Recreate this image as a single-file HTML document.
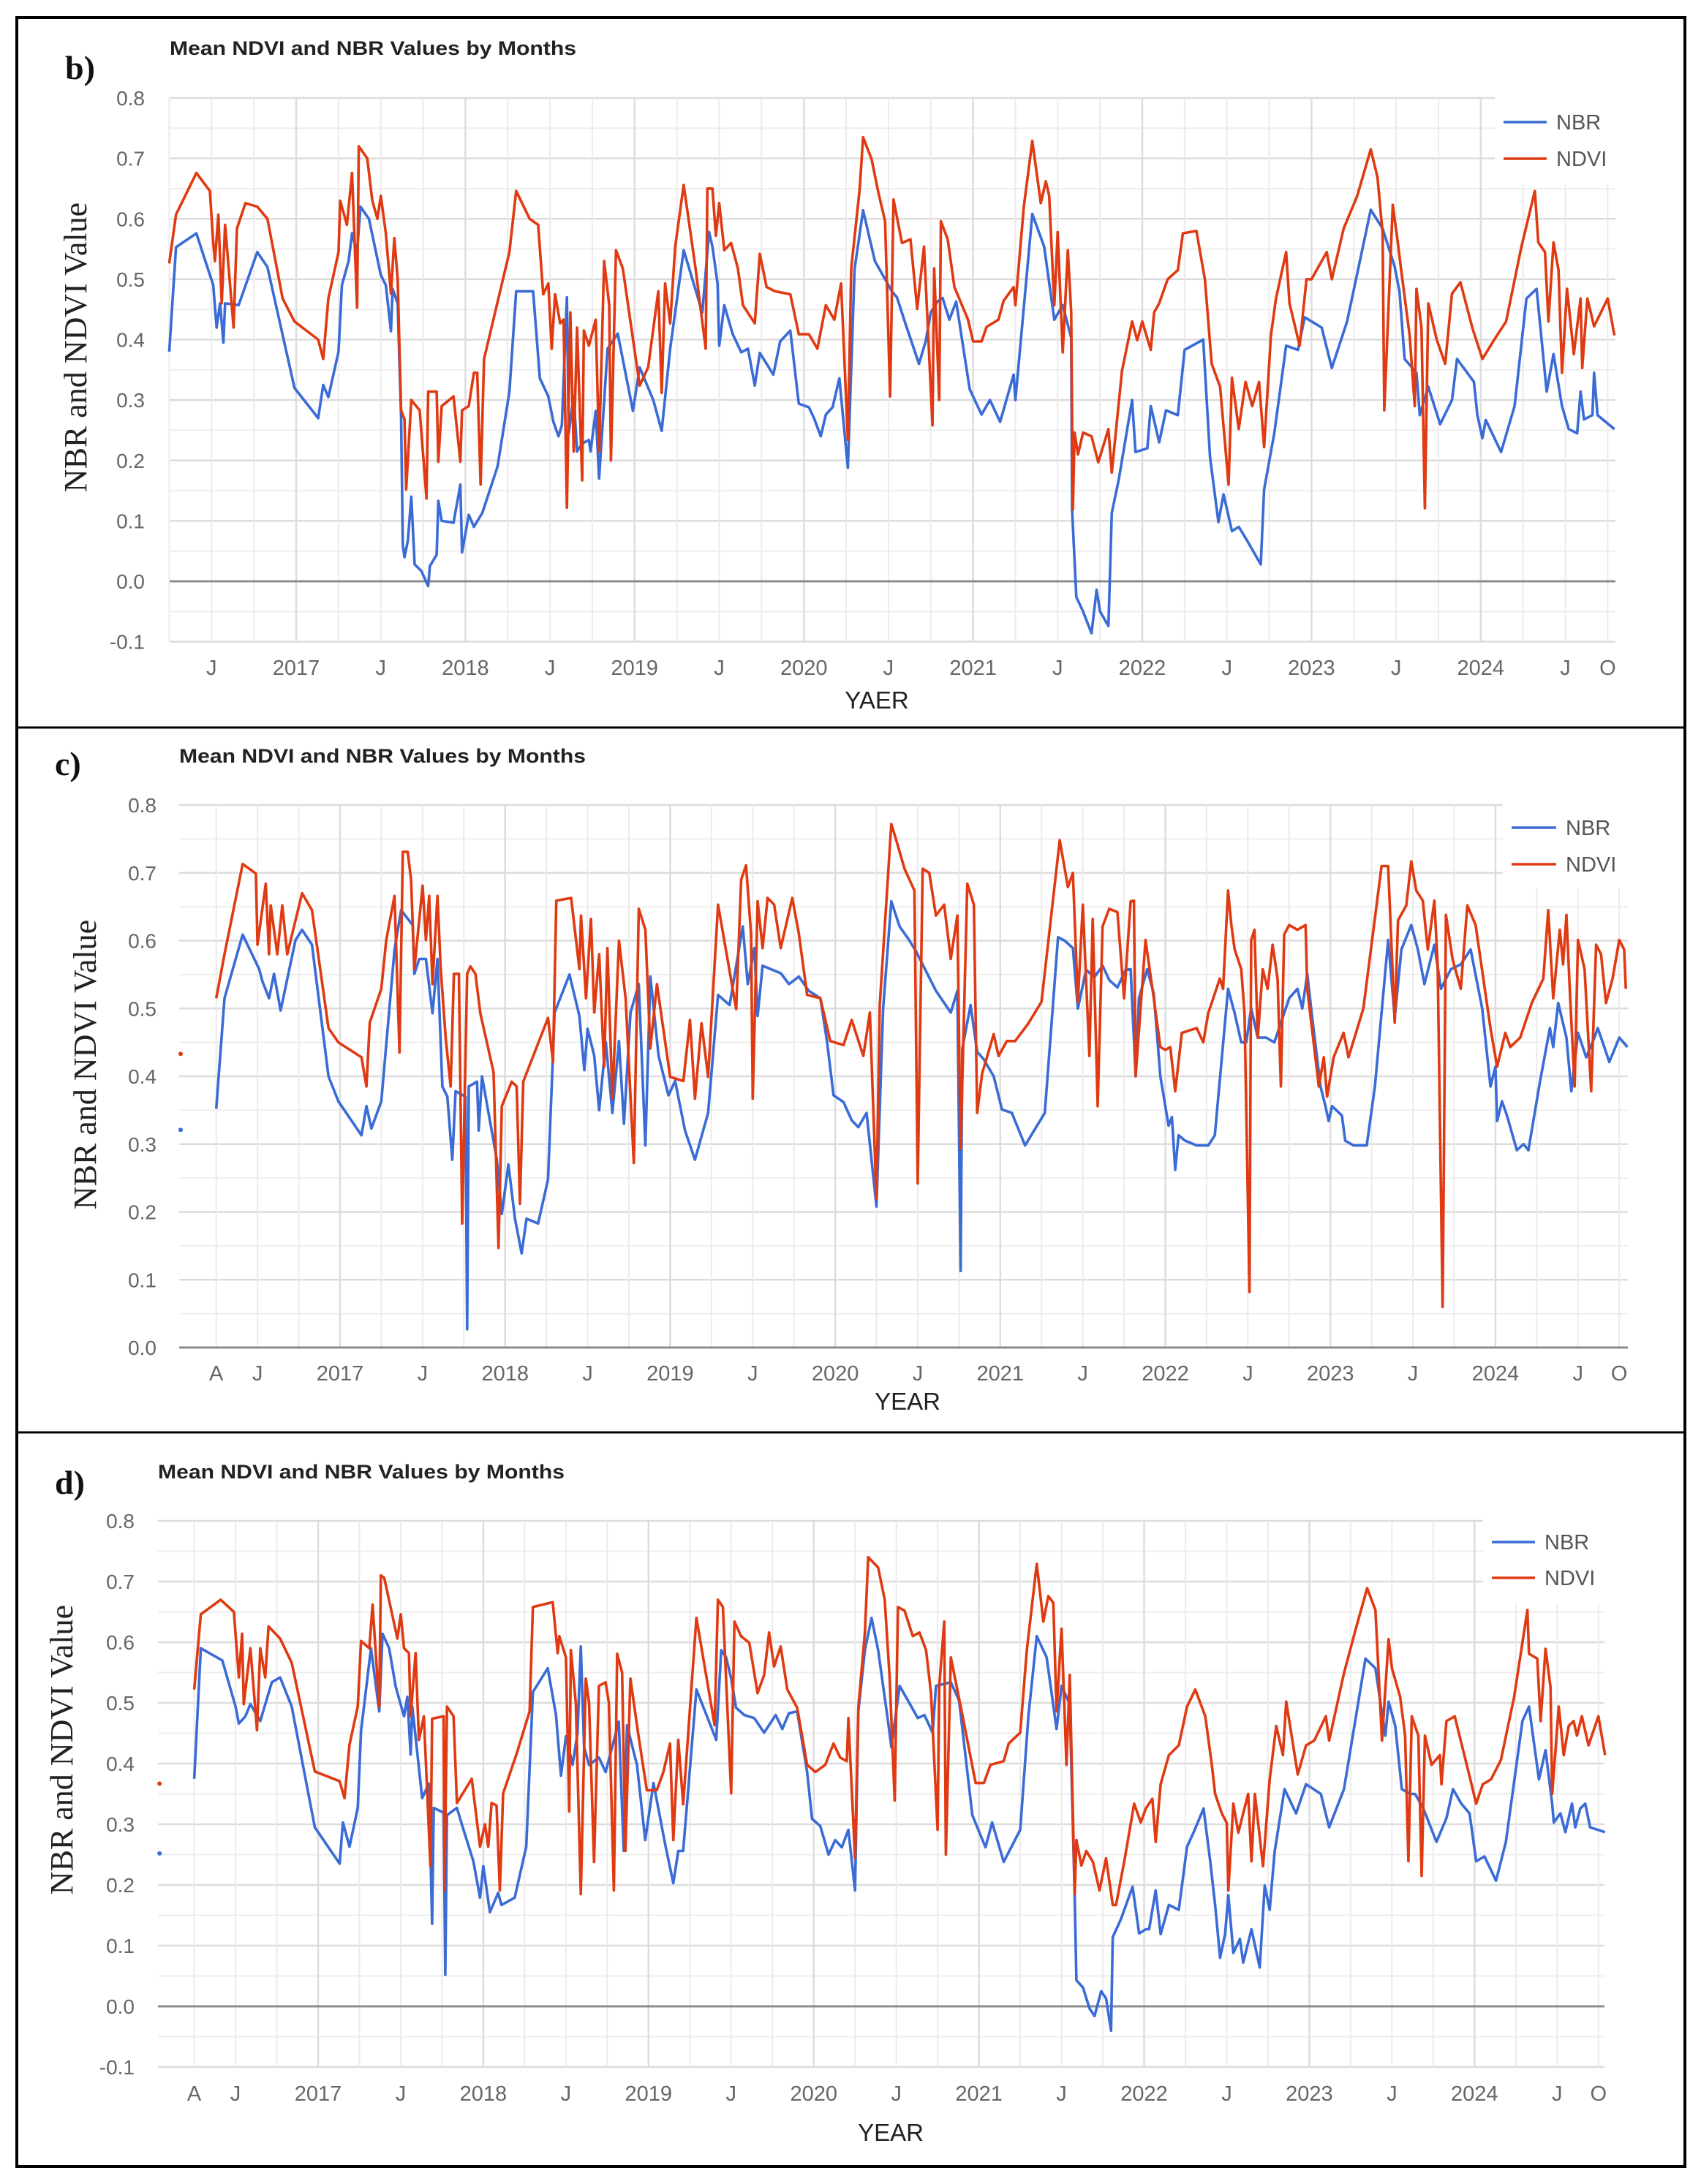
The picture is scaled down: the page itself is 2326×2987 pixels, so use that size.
<!DOCTYPE html>
<html><head><meta charset="utf-8"><title>Mean NDVI and NBR Values by Months</title>
<style>html,body{margin:0;padding:0;background:#fff}svg{display:block}</style></head>
<body>
<svg id="fig" xmlns="http://www.w3.org/2000/svg" width="2326" height="2987" viewBox="0 0 2326 2987">
<rect x="0" y="0" width="2326" height="2987" fill="#fff"/>
<g id="layer"></g>
<rect x="23" y="24" width="2281" height="2939" fill="none" stroke="#000" stroke-width="4"/>
<line x1="23" y1="995" x2="2304" y2="995" stroke="#000" stroke-width="3"/>
<line x1="23" y1="1959" x2="2304" y2="1959" stroke="#000" stroke-width="3"/>
</svg>
<script>
// ---------------- DATA (decimal years, values) ----------------
const bNbrT=[2016.25,2016.29,2016.41,2016.51,2016.53,2016.55,2016.57,2016.58,2016.66,2016.77,2016.83,2016.99,2017.13,2017.16,2017.19,2017.25,2017.27,2017.31,2017.33,2017.36,2017.38,2017.43,2017.5,2017.53,2017.56,2017.57,2017.6,2017.62,2017.63,2017.64,2017.66,2017.68,2017.7,2017.74,2017.78,2017.79,2017.83,2017.84,2017.86,2017.93,2017.97,2017.98,2018.02,2018.05,2018.1,2018.19,2018.26,2018.3,2018.4,2018.44,2018.49,2018.52,2018.55,2018.57,2018.6,2018.61,2018.64,2018.66,2018.69,2018.73,2018.74,2018.77,2018.79,2018.84,2018.9,2018.99,2019.03,2019.11,2019.16,2019.21,2019.29,2019.4,2019.44,2019.46,2019.49,2019.5,2019.53,2019.58,2019.63,2019.67,2019.71,2019.74,2019.78,2019.82,2019.86,2019.92,2019.97,2020.03,2020.06,2020.1,2020.13,2020.17,2020.21,2020.26,2020.3,2020.35,2020.42,2020.47,2020.52,2020.55,2020.6,2020.68,2020.72,2020.75,2020.79,2020.82,2020.86,2020.9,2020.98,2021.05,2021.1,2021.16,2021.24,2021.25,2021.35,2021.42,2021.48,2021.53,2021.58,2021.585,2021.61,2021.65,2021.7,2021.73,2021.75,2021.8,2021.82,2021.86,2021.94,2021.96,2022.03,2022.05,2022.1,2022.14,2022.21,2022.25,2022.36,2022.4,2022.45,2022.48,2022.53,2022.57,2022.62,2022.7,2022.72,2022.78,2022.85,2022.92,2022.96,2023.06,2023.12,2023.21,2023.35,2023.42,2023.49,2023.52,2023.55,2023.62,2023.64,2023.69,2023.76,2023.83,2023.86,2023.96,2023.98,2024.01,2024.03,2024.12,2024.2,2024.27,2024.33,2024.39,2024.43,2024.48,2024.52,2024.57,2024.59,2024.61,2024.66,2024.67,2024.69,2024.79];
const bNbrV=[.38,.553,.576,.49,.42,.46,.395,.46,.457,.545,.52,.32,.27,.325,.305,.38,.49,.53,.576,.545,.62,.6,.507,.49,.414,.484,.46,.27,.06,.04,.067,.14,.028,.017,-.008,.025,.044,.133,.1,.097,.16,.048,.11,.09,.113,.19,.314,.48,.48,.336,.306,.264,.24,.258,.47,.245,.306,.215,.228,.234,.215,.282,.17,.385,.41,.282,.354,.3,.249,.385,.548,.445,.578,.554,.493,.39,.457,.409,.379,.385,.324,.378,.36,.342,.397,.415,.294,.288,.27,.24,.276,.288,.336,.188,.517,.614,.53,.505,.48,.47,.427,.36,.397,.445,.463,.469,.433,.463,.318,.276,.3,.264,.342,.3,.608,.554,.433,.457,.403,.119,-.026,-.05,-.086,-.014,-.05,-.074,.113,.167,.3,.214,.22,.29,.23,.283,.275,.383,.4,.206,.098,.144,.083,.09,.067,.028,.152,.245,.39,.383,.437,.42,.353,.43,.615,.584,.522,.48,.368,.345,.275,.322,.26,.3,.368,.33,.275,.237,.267,.214,.29,.468,.484,.314,.376,.29,.252,.245,.314,.268,.275,.345,.275,.252];
const bNdviT=[2016.25,2016.29,2016.41,2016.49,2016.51,2016.52,2016.54,2016.56,2016.58,2016.63,2016.65,2016.7,2016.77,2016.83,2016.92,2016.99,2017.13,2017.16,2017.19,2017.25,2017.26,2017.3,2017.33,2017.36,2017.37,2017.42,2017.45,2017.48,2017.5,2017.53,2017.56,2017.58,2017.6,2017.62,2017.64,2017.65,2017.68,2017.73,2017.77,2017.78,2017.83,2017.84,2017.86,2017.93,2017.97,2017.98,2018.02,2018.05,2018.07,2018.09,2018.11,2018.26,2018.3,2018.38,2018.42,2018.43,2018.46,2018.49,2018.51,2018.53,2018.56,2018.58,2018.6,2018.62,2018.64,2018.66,2018.69,2018.7,2018.73,2018.77,2018.79,2018.82,2018.85,2018.86,2018.89,2018.93,2019.03,2019.08,2019.14,2019.16,2019.18,2019.21,2019.24,2019.29,2019.36,2019.42,2019.43,2019.46,2019.48,2019.5,2019.53,2019.57,2019.61,2019.64,2019.71,2019.74,2019.78,2019.83,2019.92,2019.97,2020.03,2020.08,2020.13,2020.18,2020.22,2020.26,2020.28,2020.33,2020.35,2020.4,2020.44,2020.48,2020.51,2020.53,2020.58,2020.63,2020.67,2020.71,2020.76,2020.77,2020.8,2020.81,2020.85,2020.89,2020.97,2021.0,2021.05,2021.08,2021.15,2021.18,2021.24,2021.25,2021.3,2021.35,2021.4,2021.43,2021.45,2021.48,2021.5,2021.53,2021.56,2021.58,2021.59,2021.6,2021.62,2021.65,2021.7,2021.74,2021.8,2021.82,2021.88,2021.94,2021.97,2022.0,2022.05,2022.07,2022.1,2022.15,2022.21,2022.24,2022.32,2022.37,2022.41,2022.46,2022.51,2022.53,2022.57,2022.61,2022.65,2022.69,2022.72,2022.76,2022.79,2022.85,2022.87,2022.93,2022.97,2023.0,2023.09,2023.12,2023.19,2023.27,2023.35,2023.39,2023.42,2023.43,2023.48,2023.51,2023.53,2023.58,2023.61,2023.62,2023.65,2023.67,2023.69,2023.74,2023.79,2023.83,2023.88,2023.95,2024.01,2024.08,2024.15,2024.24,2024.32,2024.34,2024.38,2024.4,2024.43,2024.46,2024.48,2024.51,2024.55,2024.59,2024.6,2024.63,2024.67,2024.75,2024.79];
const bNdviV=[.526,.607,.676,.646,.56,.53,.607,.46,.59,.42,.584,.626,.62,.6,.468,.43,.4,.368,.468,.545,.63,.59,.676,.453,.72,.7,.63,.6,.638,.576,.476,.568,.5,.283,.268,.152,.3,.283,.137,.314,.314,.198,.29,.306,.198,.283,.29,.345,.345,.16,.368,.545,.646,.6,.592,.59,.475,.493,.385,.475,.427,.433,.122,.445,.215,.42,.167,.415,.39,.433,.215,.53,.457,.2,.548,.518,.324,.354,.48,.312,.493,.427,.554,.656,.518,.385,.65,.65,.572,.626,.548,.56,.518,.457,.427,.542,.487,.48,.475,.409,.409,.385,.457,.433,.493,.234,.518,.65,.735,.699,.644,.596,.306,.632,.56,.566,.451,.554,.258,.518,.3,.596,.566,.487,.433,.397,.397,.421,.433,.464,.487,.457,.62,.729,.626,.662,.638,.457,.578,.379,.548,.445,.119,.246,.21,.246,.24,.197,.252,.18,.348,.43,.399,.43,.383,.445,.46,.5,.515,.576,.58,.5,.36,.322,.16,.337,.252,.33,.29,.33,.222,.407,.468,.545,.46,.39,.5,.5,.545,.5,.584,.638,.715,.669,.576,.283,.623,.561,.515,.407,.29,.484,.42,.121,.46,.4,.36,.476,.495,.42,.368,.4,.43,.553,.646,.561,.545,.43,.561,.515,.345,.484,.376,.468,.353,.468,.422,.468,.407];

const cNbrT=[2016.25,2016.3,2016.41,2016.51,2016.53,2016.57,2016.6,2016.64,2016.73,2016.77,2016.83,2016.93,2016.99,2017.13,2017.16,2017.19,2017.25,2017.33,2017.37,2017.44,2017.45,2017.48,2017.52,2017.56,2017.59,2017.62,2017.65,2017.68,2017.7,2017.76,2017.77,2017.78,2017.83,2017.84,2017.86,2017.95,2017.98,2018.02,2018.06,2018.1,2018.13,2018.2,2018.26,2018.3,2018.39,2018.45,2018.48,2018.5,2018.54,2018.57,2018.61,2018.65,2018.69,2018.72,2018.76,2018.81,2018.85,2018.88,2018.93,2018.99,2019.03,2019.09,2019.15,2019.23,2019.29,2019.36,2019.44,2019.47,2019.51,2019.53,2019.56,2019.62,2019.67,2019.72,2019.78,2019.84,2019.91,2019.95,2019.99,2020.05,2020.1,2020.14,2020.19,2020.25,2020.29,2020.34,2020.39,2020.45,2020.49,2020.61,2020.7,2020.74,2020.76,2020.77,2020.82,2020.86,2020.9,2020.96,2021.01,2021.07,2021.15,2021.27,2021.35,2021.39,2021.44,2021.47,2021.52,2021.57,2021.62,2021.66,2021.71,2021.76,2021.79,2021.82,2021.84,2021.89,2021.93,2021.97,2022.02,2022.04,2022.06,2022.08,2022.12,2022.19,2022.26,2022.3,2022.38,2022.42,2022.46,2022.49,2022.52,2022.56,2022.61,2022.66,2022.69,2022.75,2022.8,2022.83,2022.86,2022.89,2022.94,2022.97,2022.99,2023.01,2023.07,2023.09,2023.14,2023.22,2023.27,2023.35,2023.39,2023.43,2023.49,2023.53,2023.57,2023.63,2023.67,2023.73,2023.79,2023.85,2023.92,2023.97,2024.0,2024.01,2024.04,2024.07,2024.13,2024.17,2024.2,2024.27,2024.33,2024.35,2024.38,2024.43,2024.46,2024.5,2024.55,2024.6,2024.62,2024.65,2024.69,2024.75,2024.8];
const cNbrV=[.352,.515,.609,.558,.54,.515,.551,.497,.601,.616,.594,.4,.363,.313,.356,.323,.363,.587,.645,.623,.551,.573,.573,.493,.573,.385,.37,.277,.378,.37,.027,.385,.392,.32,.4,.277,.197,.27,.19,.139,.19,.183,.248,.494,.55,.489,.409,.47,.43,.35,.45,.346,.452,.33,.494,.536,.298,.547,.43,.372,.393,.32,.277,.346,.52,.505,.621,.536,.589,.489,.563,.557,.552,.536,.547,.526,.515,.452,.372,.362,.335,.325,.346,.208,.5,.658,.621,.6,.584,.526,.494,.526,.113,.441,.505,.436,.425,.4,.351,.346,.298,.346,.605,.6,.589,.5,.557,.546,.563,.542,.531,.557,.558,.4,.515,.558,.522,.4,.327,.34,.262,.313,.305,.298,.298,.313,.529,.493,.45,.45,.5,.457,.457,.45,.471,.515,.529,.5,.551,.486,.385,.356,.334,.356,.342,.305,.298,.298,.385,.601,.486,.587,.623,.587,.536,.594,.529,.558,.565,.587,.5,.385,.414,.334,.363,.342,.291,.3,.291,.392,.471,.443,.508,.457,.378,.464,.428,.457,.471,.45,.421,.457,.443];
const cNdviT=[2016.25,2016.3,2016.41,2016.49,2016.5,2016.55,2016.57,2016.58,2016.62,2016.65,2016.68,2016.77,2016.83,2016.93,2016.99,2017.13,2017.16,2017.18,2017.25,2017.28,2017.33,2017.36,2017.38,2017.41,2017.43,2017.45,2017.5,2017.52,2017.54,2017.56,2017.59,2017.61,2017.64,2017.67,2017.69,2017.72,2017.74,2017.77,2017.79,2017.82,2017.85,2017.93,2017.96,2017.98,2018.04,2018.07,2018.09,2018.11,2018.26,2018.29,2018.31,2018.4,2018.45,2018.46,2018.49,2018.52,2018.54,2018.57,2018.6,2018.62,2018.65,2018.69,2018.73,2018.78,2018.81,2018.85,2018.88,2018.92,2019.0,2019.08,2019.12,2019.15,2019.19,2019.23,2019.29,2019.4,2019.43,2019.46,2019.49,2019.5,2019.53,2019.56,2019.59,2019.63,2019.67,2019.74,2019.78,2019.83,2019.91,2019.97,2020.05,2020.1,2020.17,2020.21,2020.25,2020.27,2020.34,2020.37,2020.42,2020.48,2020.5,2020.53,2020.57,2020.61,2020.66,2020.7,2020.74,2020.76,2020.8,2020.84,2020.86,2020.89,2020.96,2020.99,2021.04,2021.09,2021.17,2021.25,2021.36,2021.41,2021.44,2021.47,2021.5,2021.54,2021.56,2021.59,2021.62,2021.66,2021.71,2021.75,2021.79,2021.81,2021.82,2021.88,2021.93,2021.97,2022.0,2022.03,2022.06,2022.1,2022.19,2022.23,2022.26,2022.33,2022.35,2022.38,2022.4,2022.42,2022.46,2022.48,2022.51,2022.52,2022.54,2022.56,2022.59,2022.62,2022.65,2022.68,2022.7,2022.72,2022.75,2022.8,2022.85,2022.86,2022.93,2022.96,2022.98,2023.02,2023.08,2023.11,2023.2,2023.31,2023.35,2023.39,2023.41,2023.46,2023.49,2023.52,2023.56,2023.59,2023.63,2023.65,2023.68,2023.7,2023.74,2023.79,2023.83,2023.88,2023.97,2024.01,2024.06,2024.09,2024.15,2024.22,2024.29,2024.32,2024.35,2024.39,2024.41,2024.43,2024.45,2024.48,2024.5,2024.54,2024.58,2024.61,2024.64,2024.67,2024.71,2024.75,2024.78,2024.79];
const cNdviV=[.515,.58,.713,.699,.594,.684,.58,.652,.58,.652,.58,.67,.645,.471,.45,.428,.385,.479,.529,.601,.666,.435,.731,.731,.69,.558,.681,.601,.666,.536,.666,.558,.457,.385,.551,.551,.183,.551,.562,.551,.493,.406,.147,.356,.392,.385,.212,.392,.486,.421,.659,.663,.558,.637,.515,.632,.494,.58,.414,.589,.367,.6,.515,.272,.647,.616,.441,.536,.399,.393,.483,.367,.478,.399,.653,.499,.69,.711,.61,.367,.658,.589,.663,.653,.589,.663,.61,.52,.515,.452,.446,.483,.43,.494,.219,.505,.772,.748,.706,.674,.242,.706,.7,.637,.653,.573,.637,.293,.684,.653,.346,.404,.462,.43,.452,.452,.478,.51,.748,.679,.7,.51,.653,.43,.632,.356,.621,.647,.642,.515,.658,.659,.4,.601,.515,.443,.439,.443,.378,.464,.471,.45,.493,.544,.529,.674,.623,.587,.558,.493,.082,.601,.616,.457,.558,.529,.594,.544,.385,.609,.623,.616,.623,.529,.385,.428,.37,.428,.464,.428,.5,.71,.71,.479,.63,.652,.717,.674,.659,.587,.659,.565,.06,.638,.573,.529,.652,.623,.471,.414,.464,.443,.457,.508,.544,.645,.515,.616,.565,.638,.529,.385,.601,.558,.378,.594,.58,.508,.544,.601,.587,.529];
const cStrayT=[2016.034];
const cStrayNbr=[.321];
const cStrayNdvi=[.433];

const dNbrT=[2016.25,2016.29,2016.42,2016.5,2016.52,2016.56,2016.59,2016.65,2016.72,2016.77,2016.84,2016.98,2017.13,2017.15,2017.19,2017.24,2017.26,2017.32,2017.37,2017.39,2017.43,2017.47,2017.52,2017.54,2017.56,2017.57,2017.63,2017.67,2017.69,2017.7,2017.76,2017.77,2017.78,2017.84,2017.87,2017.94,2017.98,2018.0,2018.04,2018.09,2018.11,2018.19,2018.26,2018.3,2018.39,2018.44,2018.47,2018.5,2018.54,2018.57,2018.59,2018.61,2018.64,2018.7,2018.74,2018.78,2018.82,2018.85,2018.87,2018.93,2018.98,2019.03,2019.1,2019.15,2019.18,2019.21,2019.29,2019.41,2019.44,2019.47,2019.5,2019.53,2019.58,2019.64,2019.7,2019.77,2019.81,2019.85,2019.9,2019.96,2019.99,2020.04,2020.09,2020.13,2020.17,2020.21,2020.25,2020.27,2020.31,2020.35,2020.39,2020.45,2020.47,2020.52,2020.57,2020.63,2020.67,2020.72,2020.74,2020.83,2020.88,2020.96,2021.04,2021.08,2021.15,2021.25,2021.3,2021.35,2021.41,2021.47,2021.5,2021.55,2021.58,2021.59,2021.63,2021.67,2021.7,2021.74,2021.77,2021.8,2021.81,2021.86,2021.93,2021.97,2022.01,2022.03,2022.07,2022.1,2022.15,2022.21,2022.26,2022.3,2022.36,2022.4,2022.43,2022.46,2022.49,2022.51,2022.54,2022.58,2022.6,2022.65,2022.7,2022.73,2022.76,2022.79,2022.85,2022.92,2022.98,2023.07,2023.12,2023.21,2023.34,2023.4,2023.46,2023.48,2023.52,2023.56,2023.61,2023.64,2023.69,2023.77,2023.83,2023.87,2023.92,2023.97,2024.01,2024.06,2024.13,2024.19,2024.29,2024.33,2024.39,2024.43,2024.47,2024.48,2024.52,2024.55,2024.59,2024.61,2024.64,2024.67,2024.7,2024.79];
const dNbrV=[.375,.59,.57,.494,.466,.478,.498,.47,.534,.542,.494,.295,.235,.303,.263,.327,.454,.59,.486,.614,.59,.526,.478,.51,.415,.494,.343,.367,.136,.327,.319,.052,.315,.327,.3,.239,.179,.231,.155,.187,.167,.179,.263,.518,.557,.48,.38,.445,.398,.45,.593,.427,.398,.41,.386,.427,.469,.256,.463,.398,.274,.368,.268,.203,.256,.256,.522,.439,.587,.575,.54,.492,.48,.475,.451,.48,.457,.483,.486,.386,.309,.297,.25,.274,.262,.291,.191,.486,.587,.64,.587,.469,.427,.528,.504,.475,.48,.451,.528,.534,.504,.315,.262,.303,.238,.291,.48,.61,.575,.457,.528,.498,.179,.043,.031,-.004,-.016,.025,.013,-.04,.114,.144,.197,.12,.127,.127,.191,.119,.167,.159,.263,.287,.326,.239,.167,.08,.119,.183,.088,.111,.072,.127,.064,.199,.159,.255,.358,.318,.366,.35,.295,.358,.573,.557,.446,.502,.462,.358,.35,.35,.326,.271,.31,.358,.334,.318,.239,.247,.207,.271,.47,.494,.374,.422,.334,.303,.318,.287,.334,.295,.326,.334,.295,.287];
const dNdviT=[2016.25,2016.29,2016.41,2016.49,2016.52,2016.54,2016.55,2016.59,2016.63,2016.65,2016.68,2016.7,2016.77,2016.84,2016.98,2017.13,2017.16,2017.19,2017.24,2017.26,2017.31,2017.33,2017.37,2017.38,2017.4,2017.48,2017.5,2017.52,2017.55,2017.56,2017.59,2017.61,2017.64,2017.68,2017.69,2017.76,2017.765,2017.78,2017.82,2017.84,2017.93,2017.98,2018.01,2018.03,2018.05,2018.08,2018.1,2018.12,2018.2,2018.28,2018.3,2018.42,2018.45,2018.46,2018.5,2018.52,2018.53,2018.56,2018.59,2018.62,2018.64,2018.67,2018.7,2018.74,2018.76,2018.79,2018.81,2018.84,2018.86,2018.89,2018.94,2018.99,2019.05,2019.09,2019.13,2019.15,2019.18,2019.21,2019.29,2019.4,2019.42,2019.45,2019.5,2019.52,2019.56,2019.61,2019.66,2019.7,2019.73,2019.76,2019.8,2019.84,2019.9,2019.96,2020.01,2020.07,2020.12,2020.16,2020.2,2020.21,2020.25,2020.27,2020.31,2020.33,2020.39,2020.43,2020.46,2020.49,2020.51,2020.55,2020.6,2020.64,2020.68,2020.71,2020.75,2020.76,2020.79,2020.8,2020.83,2020.9,2020.98,2021.03,2021.07,2021.15,2021.18,2021.25,2021.29,2021.35,2021.39,2021.42,2021.45,2021.47,2021.5,2021.53,2021.55,2021.58,2021.59,2021.62,2021.65,2021.69,2021.73,2021.77,2021.81,2021.83,2021.88,2021.94,2021.98,2022.01,2022.05,2022.07,2022.1,2022.15,2022.21,2022.26,2022.31,2022.37,2022.41,2022.43,2022.47,2022.5,2022.51,2022.54,2022.57,2022.6,2022.63,2022.65,2022.67,2022.72,2022.76,2022.8,2022.84,2022.86,2022.93,2022.98,2023.03,2023.1,2023.12,2023.21,2023.28,2023.35,2023.4,2023.44,2023.48,2023.5,2023.55,2023.58,2023.6,2023.62,2023.66,2023.68,2023.7,2023.74,2023.79,2023.8,2023.83,2023.88,2023.96,2024.01,2024.05,2024.1,2024.16,2024.24,2024.32,2024.33,2024.38,2024.4,2024.43,2024.46,2024.47,2024.51,2024.54,2024.57,2024.6,2024.62,2024.65,2024.69,2024.75,2024.79];
const dNdviV=[.522,.646,.67,.65,.542,.614,.498,.59,.455,.59,.542,.626,.606,.566,.387,.371,.343,.431,.494,.602,.59,.662,.494,.71,.706,.606,.646,.59,.582,.478,.582,.439,.478,.231,.474,.478,.191,.494,.478,.335,.375,.263,.3,.263,.335,.331,.191,.351,.415,.486,.658,.666,.582,.61,.575,.321,.587,.5,.185,.54,.5,.238,.528,.534,.5,.191,.581,.55,.256,.54,.445,.356,.356,.386,.433,.274,.439,.333,.64,.463,.67,.658,.351,.634,.61,.599,.516,.546,.616,.56,.593,.522,.492,.398,.386,.398,.433,.41,.404,.475,.244,.492,.616,.74,.723,.67,.54,.339,.658,.652,.61,.616,.587,.516,.291,.528,.634,.25,.575,.48,.368,.368,.398,.404,.433,.451,.587,.729,.634,.676,.665,.486,.622,.398,.546,.185,.274,.232,.256,.238,.191,.244,.167,.167,.239,.334,.303,.326,.342,.271,.366,.414,.43,.494,.522,.478,.398,.35,.318,.302,.191,.334,.286,.318,.35,.239,.35,.231,.374,.462,.414,.502,.382,.43,.438,.478,.438,.549,.621,.689,.653,.438,.605,.557,.51,.446,.239,.478,.446,.215,.446,.398,.414,.366,.47,.478,.39,.334,.366,.374,.406,.51,.653,.581,.573,.47,.589,.526,.35,.494,.414,.462,.47,.446,.478,.43,.478,.414];
const dStrayT=[2016.04];
const dStrayNbr=[.252];
const dStrayNdvi=[.367];

const yTicksFull=["-0.1","0.0","0.1","0.2","0.3","0.4","0.5","0.6","0.7","0.8"];
const yTicksC=["0.0","0.1","0.2","0.3","0.4","0.5","0.6","0.7","0.8"];
const xTickPosB=[2016.5,2017,2017.5,2018,2018.5,2019,2019.5,2020,2020.5,2021,2021.5,2022,2022.5,2023,2023.5,2024,2024.5,2024.75];
const xTickLabB=["J","2017","J","2018","J","2019","J","2020","J","2021","J","2022","J","2023","J","2024","J","O"];
const xTickPosCD=[2016.25,2016.5,2017,2017.5,2018,2018.5,2019,2019.5,2020,2020.5,2021,2021.5,2022,2022.5,2023,2023.5,2024,2024.5,2024.75];
const xTickLabCD=["A","J","2017","J","2018","J","2019","J","2020","J","2021","J","2022","J","2023","J","2024","J","O"];

// ---------------- RENDER ----------------
const NS="http://www.w3.org/2000/svg";
const layer=document.getElementById('layer');
const NBR_COLOR="#3a6bd6", NDVI_COLOR="#e03a12";
function mk(tag,attrs,parent){const e=document.createElementNS(NS,tag);for(const k in attrs)e.setAttribute(k,attrs[k]);(parent||layer).appendChild(e);return e;}

function panel(cfg){
  const g=mk('g',{});
  
  
  const X=t=>cfg.x2017+(t-2017)*cfg.ppy;
  const Y=v=>cfg.y0-v*cfg.ppu;
  const top=Y(0.8), bottom=Y(cfg.ymin);
  for(let k=Math.round(cfg.ymin*20);k<=16;k++){
    const v=k/20, y=Y(v);
    const l=mk('line',{x1:cfg.left,x2:cfg.right,y1:y,y2:y,stroke:(k%2===0)?'#dcdcdc':'#eeeeee','stroke-width':(k%2===0)?2.5:2},g);
    
    
  }
  for(let q=2016*4;q<=2025*4;q++){
    const t=q/4, x=X(t);
    if(x<cfg.left-1||x>cfg.right+1)continue;
    const l=mk('line',{x1:x,x2:x,y1:top,y2:bottom,stroke:(q%4===0)?'#dddddd':'#ebebeb','stroke-width':(q%4===0)?2.5:2},g);
    
    
  }
  const z=mk('line',{x1:cfg.left,x2:cfg.right,y1:Y(0),y2:Y(0),stroke:'#8c8c8c','stroke-width':3},g);
  
  
  mk('rect',{x:cfg.legX-12,y:top-4,width:cfg.right-cfg.legX+20,height:cfg.legBgH,fill:'#fff'},g);
  cfg.yTicks.forEach(s=>{
    const t=mk('text',{x:cfg.yLabX,y:Y(parseFloat(s))+10,'text-anchor':'end','font-family':'Liberation Sans, sans-serif','font-size':28,fill:'#666'},g);
    t.textContent=s;
    
    
  });
  cfg.xPos.forEach((p,i)=>{
    const t=mk('text',{x:X(p),y:cfg.xLabY,'text-anchor':'middle','font-family':'Liberation Sans, sans-serif','font-size':29,fill:'#666'},g);
    t.textContent=cfg.xLab[i];
    
    
  });
  const series=[[cfg.nbrT,cfg.nbrV,NBR_COLOR,'nbr-line'],[cfg.ndviT,cfg.ndviV,NDVI_COLOR,'ndvi-line']];
  series.forEach(s=>{
    const pts=s[0].map((t,i)=>X(t).toFixed(1)+','+Y(s[1][i]).toFixed(1)).join(' ');
    const pl=mk('polyline',{points:pts,fill:'none',stroke:s[2],'stroke-width':3.6,'stroke-linejoin':'round'},g);
    
    
  });
  if(cfg.strayT){
    cfg.strayT.forEach((t,i)=>{
      const a=mk('circle',{cx:X(t),cy:Y(cfg.strayNbr[i]),r:3,fill:NBR_COLOR},g);
      
      
      const b=mk('circle',{cx:X(t),cy:Y(cfg.strayNdvi[i]),r:3,fill:NDVI_COLOR},g);
      
      
    });
  }
  [['NBR',NBR_COLOR,cfg.legY1],['NDVI',NDVI_COLOR,cfg.legY2]].forEach(L=>{
    const ln=mk('line',{x1:cfg.legX,x2:cfg.legX+cfg.legLen,y1:L[2],y2:L[2],stroke:L[1],'stroke-width':3.5},g);
    
    
    const tx=mk('text',{x:cfg.legX+cfg.legLen+13,y:L[2]+10,'font-family':'Liberation Sans, sans-serif','font-size':29,fill:'#555'},g);
    tx.textContent=L[0];
    
    
  });
  const ti=mk('text',{x:cfg.left,y:cfg.titleY,'font-family':'Liberation Sans, sans-serif','font-size':27,'font-weight':'bold',fill:'#222',textLength:556,lengthAdjust:'spacingAndGlyphs'},g);
  ti.textContent='Mean NDVI and NBR Values by Months';
  
  
  const pl=mk('text',{x:cfg.letX,y:cfg.letY,'font-family':'Liberation Serif, serif','font-size':46,'font-weight':'bold',fill:'#111'},g);
  pl.textContent=cfg.letter;
  
  
  const yt=mk('text',{x:0,y:0,transform:'translate('+cfg.yTitX+','+cfg.yTitY+') rotate(-90)','text-anchor':'middle','font-family':'Liberation Serif, serif','font-size':44,fill:'#222'},g);
  yt.textContent='NBR and NDVI Value';
  
  
  const xt=mk('text',{x:cfg.xTitX,y:cfg.xTitY,'text-anchor':'middle','font-family':'Liberation Sans, sans-serif','font-size':33,fill:'#222'},g);
  xt.textContent=cfg.xTitle;
  
  
}

panel({id:'panel-b',letter:'b)',left:232,right:2209,x2017:405,ppy:231.4,y0:795,ppu:826.25,ymin:-0.1,
  yTicks:yTicksFull,yLabX:198,xPos:xTickPosB,xLab:xTickLabB,xLabY:923,
  nbrT:bNbrT,nbrV:bNbrV,ndviT:bNdviT,ndviV:bNdviV,
  legX:2056,legLen:59,legY1:167,legY2:217,legBgH:122,
  titleY:75,letX:89,letY:108,yTitX:118,yTitY:475,xTitX:1199,xTitY:969,xTitle:'YAER'});
panel({id:'panel-c',letter:'c)',left:245,right:2226,x2017:465,ppy:225.7,y0:1843,ppu:927.5,ymin:0,
  yTicks:yTicksC,yLabX:214,xPos:xTickPosCD,xLab:xTickLabCD,xLabY:1888,
  nbrT:cNbrT,nbrV:cNbrV,ndviT:cNdviT,ndviV:cNdviV,strayT:cStrayT,strayNbr:cStrayNbr,strayNdvi:cStrayNdvi,
  legX:2067,legLen:61,legY1:1132,legY2:1182,legBgH:118,
  titleY:1043,letX:75,letY:1060,yTitX:131,yTitY:1456,xTitX:1241,xTitY:1928,xTitle:'YEAR'});
panel({id:'panel-d',letter:'d)',left:216,right:2194,x2017:435,ppy:225.9,y0:2744,ppu:830,ymin:-0.1,
  yTicks:yTicksFull,yLabX:184,xPos:xTickPosCD,xLab:xTickLabCD,xLabY:2873,
  nbrT:dNbrT,nbrV:dNbrV,ndviT:dNdviT,ndviV:dNdviV,strayT:dStrayT,strayNbr:dStrayNbr,strayNdvi:dStrayNdvi,
  legX:2040,legLen:59,legY1:2109,legY2:2158,legBgH:118,
  titleY:2022,letX:75,letY:2043,yTitX:99,yTitY:2393,xTitX:1218,xTitY:2928,xTitle:'YEAR'});
</script>
</body></html>
